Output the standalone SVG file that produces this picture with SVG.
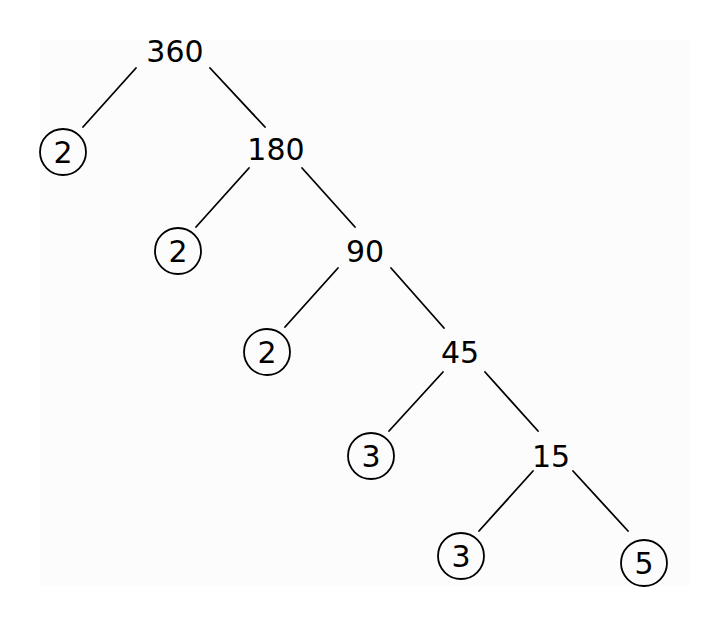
<svg xmlns="http://www.w3.org/2000/svg" width="708" height="627" viewBox="0 0 708 627">
<style>
.t{font-family:"DejaVu Sans","Liberation Sans",sans-serif;font-size:30px;fill:#000;text-anchor:middle}
.c{fill:none;stroke:#000;stroke-width:1.8}
.e line{stroke:#000;stroke-width:1.8;stroke-linecap:round}
</style>
<rect width="708" height="627" fill="#fff"/>
<rect x="40" y="40" width="650" height="546" fill="#fcfcfc"/>
<g class="e" id="connectors">
<line x1="136" y1="68" x2="83" y2="127"/>
<line x1="210" y1="68" x2="265" y2="127"/>
<line x1="249" y1="168" x2="196" y2="227"/>
<line x1="302" y1="168" x2="355" y2="227"/>
<line x1="338" y1="268" x2="285" y2="327"/>
<line x1="391" y1="268" x2="444" y2="328"/>
<line x1="443" y1="372" x2="389" y2="431"/>
<line x1="485" y1="372" x2="538" y2="431"/>
<line x1="533" y1="471" x2="479" y2="531"/>
<line x1="573" y1="471" x2="628" y2="531"/>
</g>
<g id="n360"><text class="t" x="175" y="62">360</text></g>
<g id="n2a"><circle class="c" cx="63" cy="152" r="23"/><text class="t" x="63" y="163">2</text></g>
<g id="n180"><text class="t" x="276" y="160">180</text></g>
<g id="n2b"><circle class="c" cx="178" cy="251" r="23"/><text class="t" x="178" y="262">2</text></g>
<g id="n90"><text class="t" x="365" y="262">90</text></g>
<g id="n2c"><circle class="c" cx="267" cy="352" r="23"/><text class="t" x="267" y="363">2</text></g>
<g id="n45"><text class="t" x="460" y="363">45</text></g>
<g id="n3a"><circle class="c" cx="371" cy="456" r="23"/><text class="t" x="371" y="467">3</text></g>
<g id="n15"><text class="t" x="551" y="467">15</text></g>
<g id="n3b"><circle class="c" cx="461" cy="556" r="23"/><text class="t" x="461" y="567">3</text></g>
<g id="n5"><circle class="c" cx="644" cy="563" r="23"/><text class="t" x="644" y="574">5</text></g>
</svg>
